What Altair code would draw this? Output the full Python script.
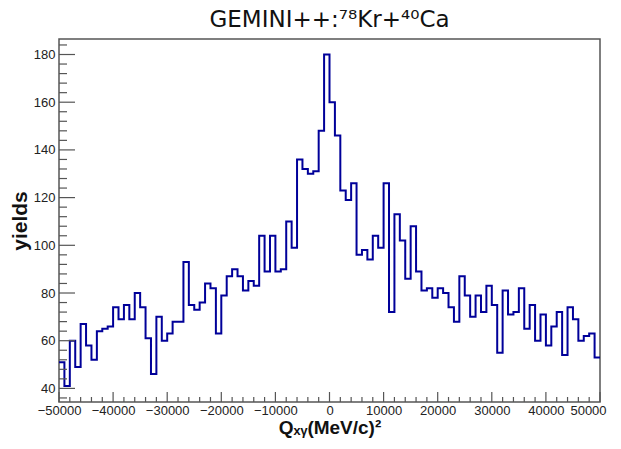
import altair as alt
import pandas as pd

# histogram: 100 bins of width 1000 from -50000 to 50000
bin_lo = list(range(-50000, 50000, 1000))
yields = [51, 41, 60, 49, 67, 58, 52, 64, 65, 66,
          74, 69, 75, 69, 80, 74, 61, 46, 70, 60,
          63, 68, 68, 93, 75, 73, 76, 84, 82, 63,
          79, 87, 90, 87, 81, 85, 83, 104, 89, 104,
          89, 90, 110, 99, 136, 132, 130, 131, 148, 180,
          160, 146, 123, 119, 126, 96, 98, 94, 104, 99,
          126, 72, 113, 102, 86, 108, 89, 81, 82, 78,
          82, 80, 74, 68, 87, 79, 70, 79, 72, 83,
          75, 55, 81, 71, 72, 82, 65, 75, 60, 71,
          58, 66, 72, 54, 74, 69, 60, 62, 63, 53]

x_major = list(range(-50000, 50001, 10000))
x_minor = [v for v in range(-50000, 50001, 2000) if v % 10000 != 0]
y_major = list(range(40, 181, 20))
y_minor = [v for v in range(36, 187, 4) if v % 20 != 0]

title_text = ["GEMINI++:⁷⁸Kr+⁴⁰Ca"]

W, H = 541, 363
XD = [-50000, 50000]
YD = [34.3, 186.5]

hist = pd.DataFrame({"q": bin_lo + [50000], "n": yields + [yields[-1]]})

xs = alt.Scale(domain=XD, nice=False, zero=False)
ys = alt.Scale(domain=YD, nice=False, zero=False)

x_axis = alt.Axis(values=x_major, format="d", title="Qₓᵧ(MeV/c)²",
                  labelPadding=2, titlePadding=1, titleFontSize=19,
                  labelOverlap=False, labelFlush=False,
                  labelOffset={"condition": {"test": "datum.value == 50000",
                                             "value": -12},
                               "value": 0})
y_axis = alt.Axis(values=y_major, title="yields", labelPadding=4,
                  titlePadding=3, labelOverlap=False)

line = alt.Chart(hist).mark_line(
    interpolate="step-after", color="#000099", strokeWidth=2
).encode(
    x=alt.X("q:Q", scale=xs, axis=x_axis),
    y=alt.Y("n:Q", scale=ys, axis=y_axis),
)

TICK = "#555555"

def xticks(vals, length):
    return alt.Chart(pd.DataFrame({"v": vals})).mark_rule(
        color=TICK, strokeWidth=1.2
    ).encode(
        x=alt.X("v:Q", scale=xs, axis=x_axis),
        y=alt.value(H), y2=alt.value(H - length),
    )

def yticks(vals, length):
    return alt.Chart(pd.DataFrame({"v": vals})).mark_rule(
        color=TICK, strokeWidth=1.2
    ).encode(
        y=alt.Y("v:Q", scale=ys, axis=y_axis),
        x=alt.value(0), x2=alt.value(length),
    )

title = alt.Chart(pd.DataFrame({"t": title_text})).mark_text(
    font="DejaVu Sans", fontSize=23, color="#111111",
    align="center", baseline="top",
).encode(
    text="t:N", x=alt.value(W / 2), y=alt.value(-30),
)

chart = alt.layer(
    line,
    xticks(x_major, 10), xticks(x_minor, 5),
    yticks(y_major, 16), yticks(y_minor, 8),
    title,
).properties(
    width=W, height=H,
    autosize=alt.AutoSizeParams(type="none"),
    padding={"left": 51, "top": 31, "right": 13, "bottom": 39},
).configure_view(
    stroke="#555555", strokeWidth=1.5
).configure_axis(
    grid=False, ticks=False, domain=False,
    labelFont="Liberation Sans", labelFontSize=13, labelColor="#222222",
    titleFont="Liberation Sans", titleFontSize=21, titleFontWeight="bold",
    titleColor="#111111",
)

chart.save("out.html", embed_options={"renderer": "svg", "actions": False})
